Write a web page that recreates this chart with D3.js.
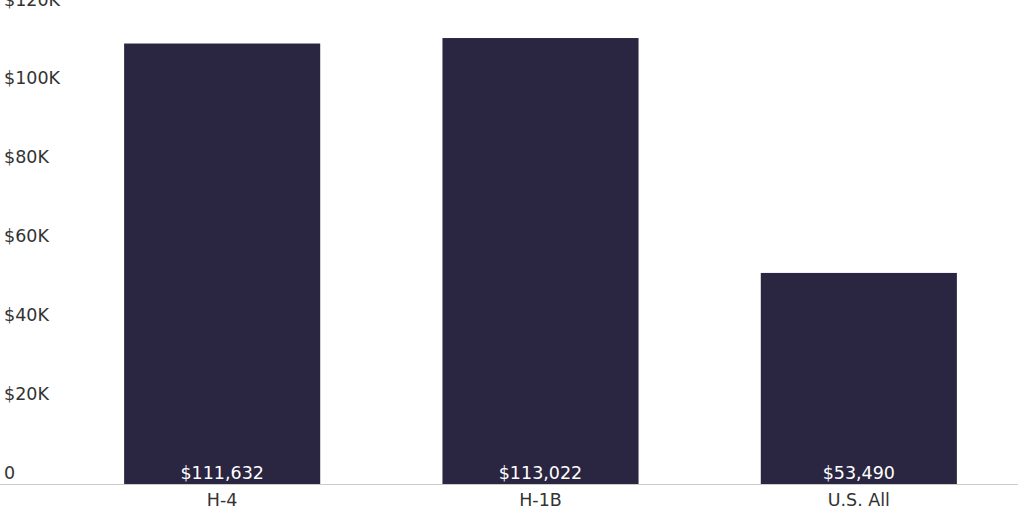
<!DOCTYPE html>
<html><head><meta charset="utf-8">
<script src="https://cdn.jsdelivr.net/npm/d3@7"></script>
<style>body{margin:0;background:#fff}svg{display:block}text{font-family:"DejaVu Sans",sans-serif}</style>
</head><body><svg id="c" width="1024" height="512"></svg>
<script>
const categories = ["H-4", "H-1B", "U.S. All"];
const values = [111632, 113022, 53490];
const yTicks = [0, 20000, 40000, 60000, 80000, 100000, 120000];
const yTickLabels = ["0", "$20K", "$40K", "$60K", "$80K", "$100K", "$120K"];

const svg = d3.select("#c");
const x = d3.scaleBand().domain(categories).range([63, 1018]).paddingInner(0.384).paddingOuter(0.192);
const y = d3.scaleLinear().domain([0, 120000]).range([484, 10.5]);
const fmt = d3.format("$,");

svg.append("g").selectAll("text").data(yTicks).join("text")
  .attr("x", 4).attr("y", d => y(d) - 5)
  .attr("font-size", 17.5).attr("fill", "#333")
  .text((d, i) => yTickLabels[i]);

svg.append("g").selectAll("rect").data(values).join("rect")
  .attr("x", (d, i) => x(categories[i])).attr("width", x.bandwidth())
  .attr("y", d => y(d)).attr("height", d => y(0) - y(d))
  .attr("fill", "#2a2540");

svg.append("line").attr("x1", 0).attr("x2", 1018).attr("y1", y(0) + 0.5).attr("y2", y(0) + 0.5)
  .attr("stroke", "#cccccc").attr("stroke-width", 1);

svg.append("g").selectAll("text").data(values).join("text")
  .attr("x", (d, i) => x(categories[i]) + x.bandwidth() / 2).attr("y", y(0) - 5)
  .attr("text-anchor", "middle").attr("font-size", 17.5).attr("fill", "#fff")
  .text(d => fmt(d));

svg.append("g").selectAll("text").data(categories).join("text")
  .attr("x", d => x(d) + x.bandwidth() / 2).attr("y", 506)
  .attr("text-anchor", "middle").attr("font-size", 17.5).attr("fill", "#333")
  .text(d => d);
</script></body></html>
